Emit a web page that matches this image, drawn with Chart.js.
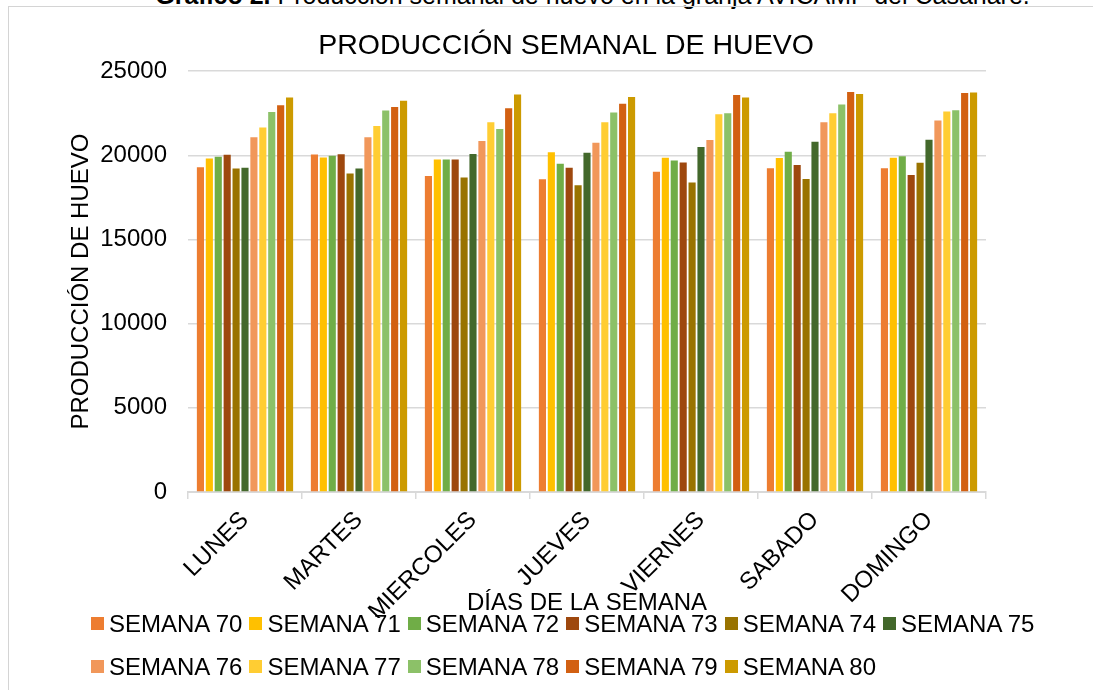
<!DOCTYPE html>
<html lang="es">
<head>
<meta charset="utf-8">
<title>Producción semanal de huevo</title>
<script src="https://cdn.jsdelivr.net/npm/chart.js@4.4.1/dist/chart.umd.min.js"></script>
<style>
    body {
        margin: 0;
        background: #ffffff;
        overflow: hidden;
        font-family: "Liberation Sans", Arial, sans-serif;
    }
    #caption {
        position: absolute;
        top: -16px;
        left: 0;
        width: 1185px;
        text-align: center;
        font-size: 25px;
        line-height: 23px;
        color: #000;
        white-space: nowrap;
    }
    #marco {
        position: absolute;
        left: 8px;
        top: 6px;
        width: 1114px;
        height: 700px;
        border: 1px solid #d4d4d4;
    }
    #leyenda {
        position: absolute;
        left: 91px;
        top: 602px;
        width: 985px;
        margin: 0;
        padding: 0;
        list-style: none;
        display: flex;
        flex-wrap: wrap;
    }
    #leyenda li {
        display: flex;
        align-items: center;
        height: 43px;
        margin-right: 7px;
        font-size: 24px;
        color: #000;
    }
    #leyenda li span.caja {
        display: inline-block;
        width: 13px;
        height: 13px;
        margin-right: 5px;
    }
</style>
</head>
<body>
<div id="caption"><b>Gráfico 2.</b> Producción semanal de huevo en la granja AVICAMP del Casanare.</div>
<div id="marco">
    <canvas id="huevoChart"></canvas>
</div>
<ul id="leyenda"></ul>

<script>
// Días de la semana (categorías)
const dias = ['LUNES', 'MARTES', 'MIERCOLES', 'JUEVES', 'VIERNES', 'SABADO', 'DOMINGO'];

// Producción por semana, un valor por día
const semana70 = [19300, 20050, 18780, 18580, 19020, 19240, 19240];
const semana71 = [19820, 19880, 19760, 20180, 19860, 19840, 19860];
const semana72 = [19920, 19980, 19760, 19500, 19700, 20210, 19940];
const semana73 = [20040, 20060, 19760, 19260, 19580, 19420, 18840];
const semana74 = [19220, 18920, 18680, 18230, 18390, 18600, 19560];
const semana75 = [19260, 19220, 20080, 20160, 20490, 20810, 20930];
const semana76 = [21070, 21070, 20850, 20750, 20910, 21970, 22070];
const semana77 = [21650, 21750, 21970, 21970, 22440, 22500, 22600];
const semana78 = [22580, 22660, 21570, 22540, 22500, 23020, 22680];
const semana79 = [22980, 22880, 22800, 23060, 23580, 23760, 23700];
const semana80 = [23440, 23240, 23620, 23460, 23440, 23640, 23740];

const nombresSemana = ['SEMANA 70', 'SEMANA 71', 'SEMANA 72', 'SEMANA 73', 'SEMANA 74', 'SEMANA 75',
    'SEMANA 76', 'SEMANA 77', 'SEMANA 78', 'SEMANA 79', 'SEMANA 80'];
const valoresSemana = [semana70, semana71, semana72, semana73, semana74, semana75,
    semana76, semana77, semana78, semana79, semana80];
const coloresSemana = ['#ED7D31', '#FFC000', '#70AD47', '#9E480E', '#997300', '#43682B',
    '#F1975A', '#FFCD33', '#8CC168', '#D26012', '#CC9A00'];

const fuente = '"Liberation Sans", Arial, sans-serif';

// Leyenda en HTML: filas alineadas a la izquierda
const leyendaHtml = {
    id: 'leyendaHtml',
    afterUpdate(chart) {
        const ul = document.getElementById('leyenda');
        ul.innerHTML = '';
        const items = chart.options.plugins.legend.labels.generateLabels(chart);
        items.forEach(item => {
            const li = document.createElement('li');
            const caja = document.createElement('span');
            caja.className = 'caja';
            caja.style.background = item.fillStyle;
            li.appendChild(caja);
            li.appendChild(document.createTextNode(item.text));
            ul.appendChild(li);
        });
    }
};

// El título se centra sobre todo el recuadro, no solo entre los márgenes
const tituloCentrado = {
    id: 'tituloCentrado',
    afterLayout(chart) {
        chart.titleBlock.left = 0;
        chart.titleBlock.right = chart.width;
    }
};

const ctx = document.getElementById('huevoChart').getContext('2d');
const huevoChart = new Chart(ctx, {
    type: 'bar',
    data: {
        labels: dias,
        datasets: nombresSemana.map((nombre, i) => ({
            label: nombre,
            data: valoresSemana[i],
            backgroundColor: coloresSemana[i],
            borderWidth: 0,
            categoryPercentage: 0.86,
            barPercentage: 0.8
        }))
    },
    options: {
        responsive: true,
        maintainAspectRatio: false,
        animation: false,
        layout: {
            padding: { left: 58, right: 137, top: 14, bottom: 89 }
        },
        scales: {
            x: {
                grid: {
                    display: true,
                    drawOnChartArea: false,
                    drawTicks: true,
                    tickLength: 7,
                    color: '#d9d9d9',
                    lineWidth: 1.5
                },
                border: { color: '#d9d9d9', width: 2 },
                ticks: {
                    color: '#000',
                    font: { family: fuente, size: 24 },
                    minRotation: 45,
                    maxRotation: 45,
                    autoSkip: false,
                    padding: 7
                },
                title: {
                    display: true,
                    text: 'DÍAS DE LA SEMANA',
                    color: '#000',
                    font: { family: fuente, size: 24 },
                    padding: { top: 0, bottom: 0 }
                },
                afterFit: function(scale) {
                    scale.height = 126;
                }
            },
            y: {
                min: 0,
                max: 25000,
                grid: {
                    color: '#d9d9d9',
                    lineWidth: 1.5,
                    drawTicks: false
                },
                border: { display: false },
                ticks: {
                    stepSize: 5000,
                    color: '#000',
                    font: { family: fuente, size: 24 },
                    padding: 21,
                    callback: function(value) {
                        return String(value);
                    }
                },
                title: {
                    display: true,
                    text: 'PRODUCCIÓN DE HUEVO',
                    color: '#000',
                    font: { family: fuente, size: 24 },
                    padding: { top: 0, bottom: 5 }
                },
                afterFit: function(scale) {
                    scale.width = 121;
                }
            }
        },
        plugins: {
            legend: { display: false },
            tooltip: { enabled: false },
            title: {
                display: true,
                text: 'PRODUCCIÓN SEMANAL DE HUEVO',
                color: '#000',
                font: { family: fuente, size: 28.5, weight: 'normal' },
                padding: { top: 8, bottom: 8 }
            }
        }
    },
    plugins: [leyendaHtml, tituloCentrado]
});
</script>
</body>
</html>
